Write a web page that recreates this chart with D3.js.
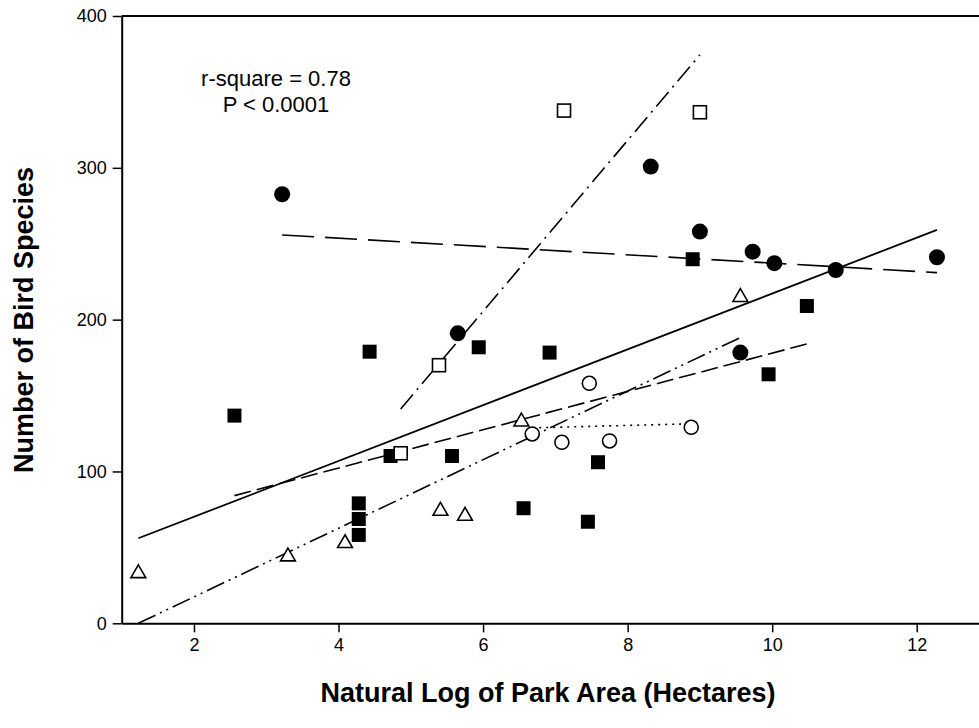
<!DOCTYPE html>
<html>
<head>
<meta charset="utf-8">
<script src="https://cdn.jsdelivr.net/npm/d3@7"></script>
<style>
  html, body { margin: 0; padding: 0; background: #fff; }
  svg { display: block; font-family: Arial, "Liberation Sans", sans-serif; }
</style>
</head>
<body>
<svg id="chart" width="979" height="728"></svg>
<script>
// Bird species richness against natural log of park area, by park group
const filledCircleX = [3.22, 5.65, 8.32, 9.00, 9.56, 9.73, 10.03, 10.88, 12.28];
const filledCircleY = [282.6, 191.0, 300.8, 258.0, 178.3, 244.8, 237.2, 232.7, 241.1];

const filledSquareX = [2.56, 4.28, 4.28, 4.28, 4.43, 4.72, 5.57, 5.94, 6.56, 6.92, 7.45, 7.59, 8.90, 9.95, 10.48];
const filledSquareY = [136.8, 79.0, 68.7, 58.2, 178.9, 110.2, 110.2, 181.8, 75.8, 178.3, 66.9, 106.1, 239.8, 164.0, 209.0];

const openSquareX = [4.86, 5.39, 7.12, 9.00];
const openSquareY = [112.0, 170.0, 337.7, 336.6];

const triangleX = [1.23, 3.30, 4.09, 5.41, 5.75, 6.53, 9.56];
const triangleY = [32.9, 43.9, 52.7, 74.0, 70.7, 132.8, 214.8];

const openCircleX = [6.68, 7.09, 7.47, 7.75, 8.88];
const openCircleY = [124.7, 119.2, 158.1, 120.1, 129.1];

// Fitted regression lines (end points): pooled and per group
const fitAllX = [1.23, 12.28];
const fitAllY = [56.0, 259.1];
const fitFilledCircleX = [3.22, 12.28];
const fitFilledCircleY = [255.8, 231.0];
const fitFilledSquareX = [2.56, 10.48];
const fitFilledSquareY = [84.1, 184.0];
const fitOpenSquareX = [4.86, 9.00];
const fitOpenSquareY = [141.2, 374.4];
const fitTriangleX = [1.23, 9.56];
const fitTriangleY = [0.0, 188.2];
const fitOpenCircleX = [6.68, 8.88];
const fitOpenCircleY = [128.7, 131.4];

const xTicks = [2, 4, 6, 8, 10, 12];
const yTicks = [0, 100, 200, 300, 400];
const statLines = ["r-square = 0.78", "P < 0.0001"];

const svg = d3.select("#chart");
const plotLeft = 121.7, plotTop = 16, plotBottom = 623.3, plotRight = 989;

const x = d3.scaleLinear().domain([1, 13]).range([plotLeft, plotRight]);
const y = d3.scaleLinear().domain([0, 400]).range([plotBottom, plotTop]);

// frame top edge
svg.append("line")
  .attr("x1", plotLeft).attr("x2", plotRight)
  .attr("y1", plotTop).attr("y2", plotTop)
  .attr("stroke", "#000").attr("stroke-width", 2);

const xAxis = svg.append("g")
  .attr("transform", `translate(0,${plotBottom})`)
  .call(d3.axisBottom(x).tickValues(xTicks).tickSize(9).tickSizeOuter(0).tickPadding(6));
const yAxis = svg.append("g")
  .attr("transform", `translate(${plotLeft},0)`)
  .call(d3.axisLeft(y).tickValues(yTicks).tickSize(9).tickSizeOuter(0).tickPadding(6));

[xAxis, yAxis].forEach(g => {
  g.select(".domain").attr("stroke", "#000").attr("stroke-width", 2);
  g.selectAll(".tick line").attr("stroke", "#000").attr("stroke-width", 1.5);
  g.selectAll(".tick text").attr("fill", "#000")
    .style("font-size", "18px").style("font-family", "Arial, 'Liberation Sans', sans-serif");
});

// axis titles
svg.append("text")
  .attr("x", 548).attr("y", 702)
  .attr("text-anchor", "middle")
  .style("font-size", "27px").style("font-weight", "bold")
  .text("Natural Log of Park Area (Hectares)");
svg.append("text")
  .attr("transform", "translate(33,320) rotate(-90)")
  .attr("text-anchor", "middle")
  .style("font-size", "27px").style("font-weight", "bold")
  .text("Number of Bird Species");

// statistics note
svg.append("g").selectAll("text").data(statLines).join("text")
  .attr("x", 276).attr("y", (d, i) => 86 + i * 25.5)
  .attr("text-anchor", "middle")
  .style("font-size", "22px")
  .text(d => d);

// regression lines
const fits = [
  { xs: fitAllX, ys: fitAllY, dash: null, w: 1.8 },
  { xs: fitFilledCircleX, ys: fitFilledCircleY, dash: "32,11", w: 1.6 },
  { xs: fitFilledSquareX, ys: fitFilledSquareY, dash: "17,6", w: 1.6 },
  { xs: fitOpenSquareX, ys: fitOpenSquareY, dash: "19,6,2,6", w: 1.6 },
  { xs: fitTriangleX, ys: fitTriangleY, dash: "19,5,2,5,2,5", w: 1.6 },
  { xs: fitOpenCircleX, ys: fitOpenCircleY, dash: "2,5", w: 1.6 }
];
const line = d3.line().x(d => x(d[0])).y(d => y(d[1]));
svg.append("g").selectAll("path").data(fits).join("path")
  .attr("d", f => line(d3.zip(f.xs, f.ys)))
  .attr("fill", "none").attr("stroke", "#000")
  .attr("stroke-width", f => f.w)
  .attr("stroke-dasharray", f => f.dash);

// markers
const pts = (xs, ys) => d3.zip(xs, ys);
const markers = svg.append("g");

markers.selectAll(".fc").data(pts(filledCircleX, filledCircleY)).join("circle")
  .attr("cx", d => x(d[0])).attr("cy", d => y(d[1])).attr("r", 8).attr("fill", "#000");

markers.selectAll(".fs").data(pts(filledSquareX, filledSquareY)).join("rect")
  .attr("x", d => x(d[0]) - 7).attr("y", d => y(d[1]) - 7)
  .attr("width", 14).attr("height", 14).attr("fill", "#000");

markers.selectAll(".os").data(pts(openSquareX, openSquareY)).join("rect")
  .attr("x", d => x(d[0]) - 6.5).attr("y", d => y(d[1]) - 6.5)
  .attr("width", 13).attr("height", 13)
  .attr("fill", "#fff").attr("stroke", "#000").attr("stroke-width", 1.6);

const tri = d3.symbol().type(d3.symbolTriangle).size(95);
markers.selectAll(".tr").data(pts(triangleX, triangleY)).join("path")
  .attr("d", tri)
  .attr("transform", d => `translate(${x(d[0])},${y(d[1])})`)
  .attr("fill", "#fff").attr("stroke", "#000").attr("stroke-width", 1.6);

markers.selectAll(".oc").data(pts(openCircleX, openCircleY)).join("circle")
  .attr("cx", d => x(d[0])).attr("cy", d => y(d[1])).attr("r", 7)
  .attr("fill", "#fff").attr("stroke", "#000").attr("stroke-width", 1.6);
</script>
</body>
</html>
